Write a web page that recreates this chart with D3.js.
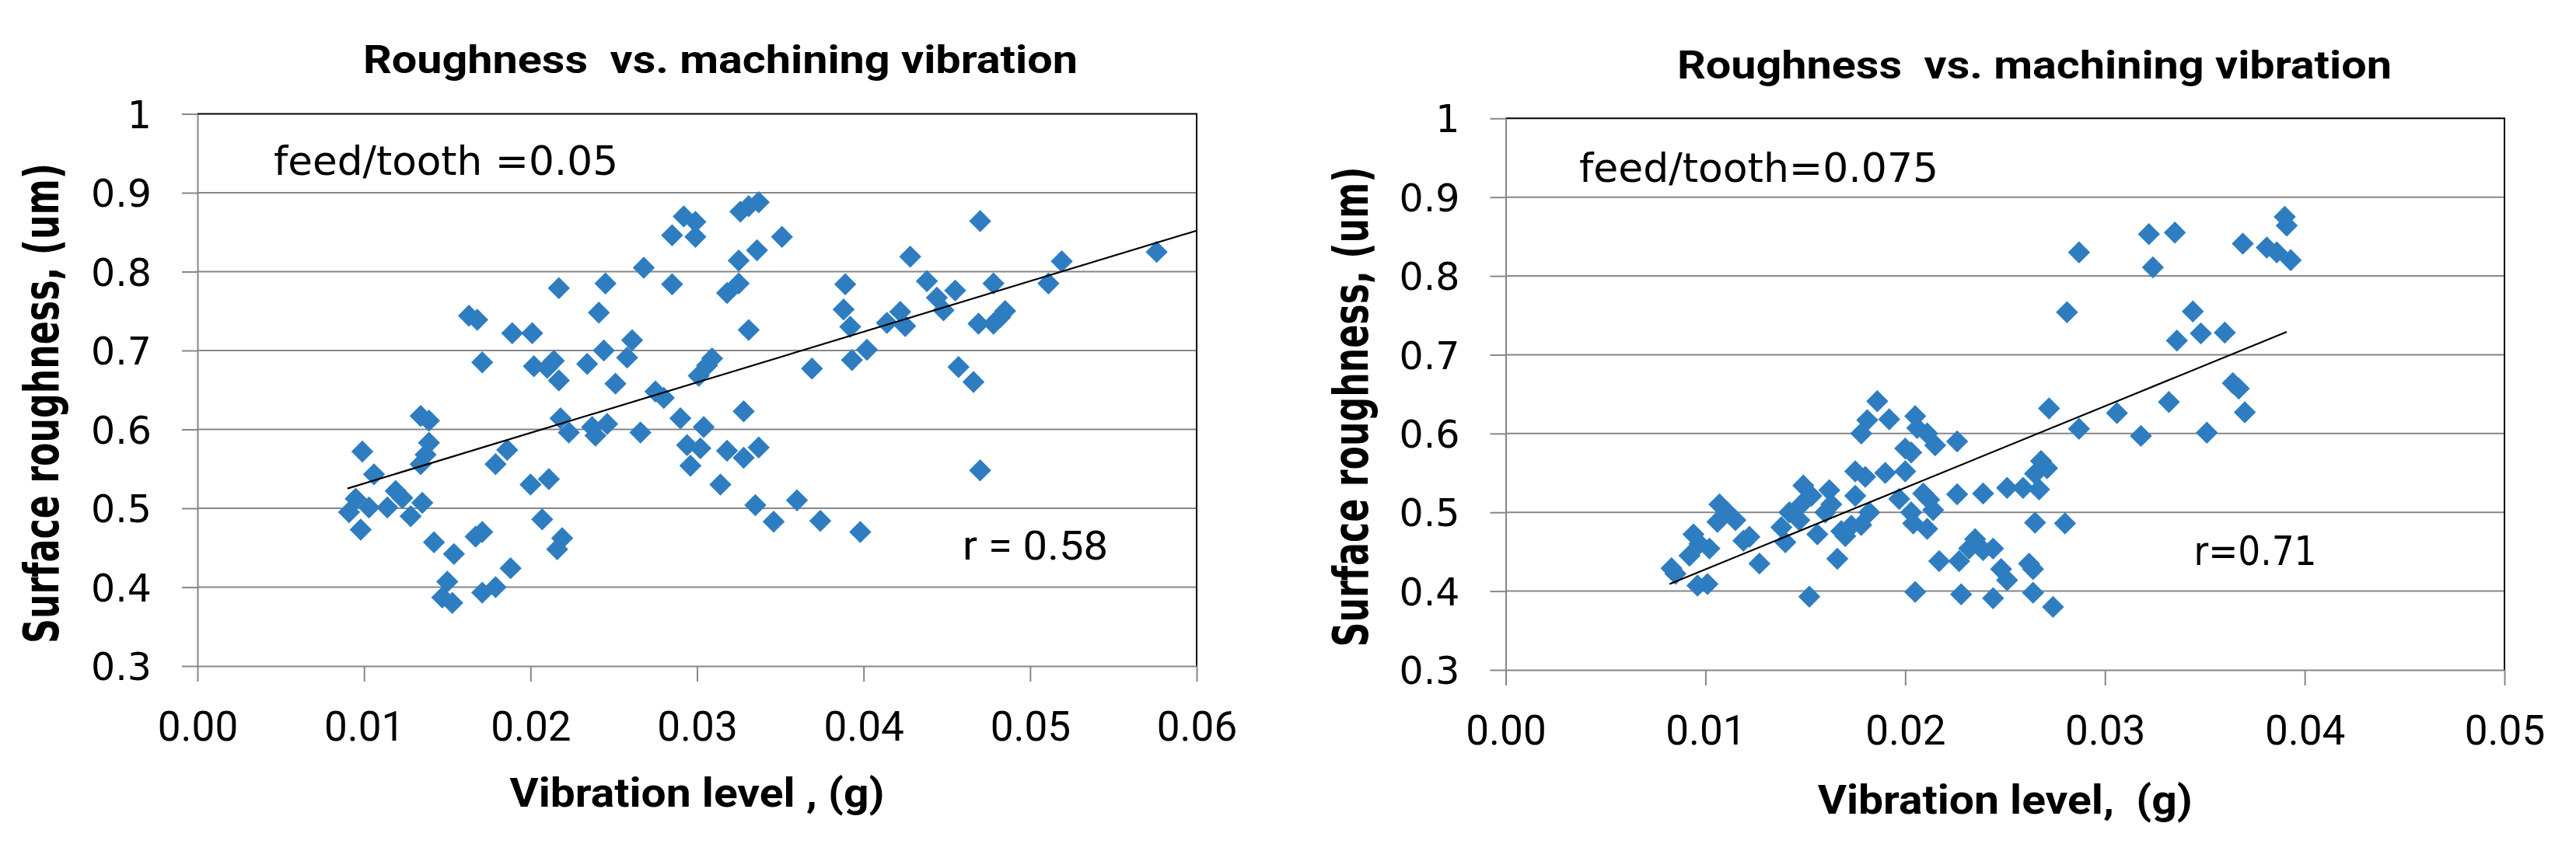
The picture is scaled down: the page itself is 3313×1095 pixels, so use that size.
<!DOCTYPE html>
<html>
<head>
<meta charset="utf-8">
<title>Roughness vs. machining vibration</title>
<script src="https://cdn.jsdelivr.net/npm/d3@7"></script>
<style>
    html, body { margin: 0; padding: 0; background: #fff; }
    svg { display: block; }
</style>
</head>
<body>
<svg id="chart" width="3313" height="1095"></svg>
<script>
/*jslint browser: true */

// feed/tooth = 0.05 : vibration level (g) and surface roughness (um)
var leftVib = [0.0091, 0.0095, 0.0098, 0.0099, 0.0103, 0.0106, 0.0114, 0.0119, 0.0123, 0.0128,
    0.0134, 0.0135, 0.0139, 0.0139, 0.0137, 0.0134, 0.0142, 0.0150, 0.0147, 0.0153,
    0.0154, 0.0163, 0.0168, 0.0167, 0.0171, 0.0171, 0.0171, 0.0179, 0.0179, 0.0186,
    0.0188, 0.0189, 0.0201, 0.0200, 0.0202, 0.0207, 0.0210, 0.0214, 0.0211, 0.0217,
    0.0216, 0.0219, 0.0217, 0.0218, 0.0223, 0.0234, 0.0237, 0.0239, 0.0241, 0.0244,
    0.0245, 0.0246, 0.0251, 0.0258, 0.0261, 0.0266, 0.0268, 0.0275, 0.0280, 0.0285,
    0.0285, 0.0292, 0.0290, 0.0294, 0.0296, 0.0299, 0.0299, 0.0301, 0.0302, 0.0304,
    0.0306, 0.0309, 0.0314, 0.0318, 0.0318, 0.0325, 0.0325, 0.0326, 0.0328, 0.0328,
    0.0331, 0.0331, 0.0335, 0.0337, 0.0336, 0.0337, 0.0346, 0.0351, 0.0360, 0.0369,
    0.0374, 0.0389, 0.0388, 0.0392, 0.0393, 0.0398, 0.0402, 0.0414, 0.0422, 0.0425,
    0.0428, 0.0438, 0.0444, 0.0448, 0.0455, 0.0457, 0.0466, 0.0470, 0.0469, 0.0470,
    0.0478, 0.0478, 0.0482, 0.0485, 0.0511, 0.0519, 0.0576];
var leftRough = [0.495, 0.512, 0.473, 0.572, 0.501, 0.543, 0.501, 0.522, 0.513, 0.490,
    0.617, 0.507, 0.611, 0.583, 0.568, 0.556, 0.457, 0.407, 0.387, 0.380,
    0.442, 0.744, 0.739, 0.464, 0.470, 0.685, 0.393, 0.400, 0.556, 0.574,
    0.424, 0.722, 0.722, 0.530, 0.680, 0.486, 0.678, 0.687, 0.537, 0.662,
    0.448, 0.462, 0.779, 0.614, 0.596, 0.683, 0.603, 0.592, 0.748, 0.700,
    0.785, 0.607, 0.658, 0.691, 0.713, 0.596, 0.805, 0.648, 0.640, 0.784,
    0.846, 0.870, 0.614, 0.580, 0.554, 0.863, 0.844, 0.668, 0.576, 0.603,
    0.681, 0.690, 0.530, 0.573, 0.773, 0.785, 0.814, 0.876, 0.564, 0.623,
    0.883, 0.726, 0.504, 0.888, 0.827, 0.577, 0.483, 0.844, 0.510, 0.677,
    0.484, 0.784, 0.752, 0.730, 0.688, 0.470, 0.701, 0.735, 0.749, 0.731,
    0.819, 0.788, 0.767, 0.751, 0.776, 0.679, 0.660, 0.864, 0.734, 0.548,
    0.785, 0.734, 0.742, 0.750, 0.785, 0.813, 0.825];

// feed/tooth = 0.075
var rightVib = [0.0083, 0.0085, 0.0094, 0.0092, 0.0096, 0.0101, 0.0097, 0.0102, 0.0107, 0.0106,
    0.0111, 0.0115, 0.0119, 0.0122, 0.0127, 0.0140, 0.0138, 0.0142, 0.0147, 0.0149,
    0.0148, 0.0153, 0.0152, 0.0156, 0.0160, 0.0162, 0.0163, 0.0166, 0.0168, 0.0173,
    0.0175, 0.0175, 0.0178, 0.0178, 0.0180, 0.0181, 0.0182, 0.0186, 0.0190, 0.0192,
    0.0197, 0.0200, 0.0200, 0.0203, 0.0205, 0.0204, 0.0203, 0.0205, 0.0206, 0.0209,
    0.0211, 0.0211, 0.0215, 0.0214, 0.0217, 0.0226, 0.0226, 0.0228, 0.0227, 0.0232,
    0.0235, 0.0239, 0.0239, 0.0244, 0.0244, 0.0248, 0.0251, 0.0251, 0.0259, 0.0262,
    0.0264, 0.0265, 0.0264, 0.0267, 0.0265, 0.0268, 0.0271, 0.0272, 0.0274, 0.0280,
    0.0281, 0.0287, 0.0287, 0.0306, 0.0318, 0.0322, 0.0324, 0.0332, 0.0335, 0.0336,
    0.0344, 0.0348, 0.0351, 0.0360, 0.0364, 0.0367, 0.0369, 0.0370, 0.0381, 0.0386,
    0.0390, 0.0391, 0.0393, 0.0170, 0.0212];
var rightRough = [0.429, 0.422, 0.472, 0.445, 0.407, 0.409, 0.460, 0.454, 0.510, 0.488,
    0.500, 0.490, 0.464, 0.469, 0.435, 0.462, 0.481, 0.500, 0.490, 0.534,
    0.510, 0.521, 0.393, 0.472, 0.500, 0.528, 0.510, 0.441, 0.476, 0.483,
    0.552, 0.521, 0.600, 0.484, 0.545, 0.617, 0.500, 0.641, 0.550, 0.618,
    0.517, 0.552, 0.581, 0.500, 0.622, 0.486, 0.576, 0.399, 0.607, 0.524,
    0.479, 0.600, 0.585, 0.503, 0.438, 0.590, 0.523, 0.396, 0.438, 0.454,
    0.466, 0.452, 0.524, 0.391, 0.454, 0.428, 0.414, 0.531, 0.531, 0.435,
    0.428, 0.487, 0.398, 0.529, 0.549, 0.565, 0.556, 0.632, 0.380, 0.486,
    0.754, 0.606, 0.830, 0.626, 0.597, 0.853, 0.811, 0.640, 0.855, 0.718,
    0.755, 0.727, 0.601, 0.728, 0.664, 0.657, 0.841, 0.627, 0.836, 0.830,
    0.875, 0.864, 0.820, 0.470, 0.516];

// linear trend lines as drawn (end points)
var leftTrendVib = [0.009, 0.06];
var leftTrendRough = [0.525, 0.852];
var rightTrendVib = [0.0082, 0.0391];
var rightTrendRough = [0.409, 0.729];

var roughTicks = [0.3, 0.4, 0.5, 0.6, 0.7, 0.8, 0.9, 1];
var leftVibTicks = [0, 0.01, 0.02, 0.03, 0.04, 0.05, 0.06];
var rightVibTicks = [0, 0.01, 0.02, 0.03, 0.04, 0.05];

var titles = ["Roughness  vs. machining vibration", "Roughness  vs. machining vibration"];
var xTitles = ["Vibration level , (g)", "Vibration level,  (g)"];
var yTitles = ["Surface roughness, (um)", "Surface roughness, (um)"];
var feedNotes = ["feed/tooth =0.05", "feed/tooth=0.075"];
var rNotes = ["r = 0.58", "r=0.71"];

(function (d3) {
    "use strict";

    var CALIBRI = "Roboto, 'Liberation Sans', sans-serif",
        VERDANA = "'DejaVu Sans', Verdana, sans-serif",
        GRID = "#868686",
        BLUE = "#2e7dc1",
        svg = d3.select("#chart");

    svg.append("rect").attr("width", 3313).attr("height", 1095).attr("fill", "#fff");

    function addText(g, str, o) {
        var t = g.append("text")
            .text(str)
            .attr("x", o.x)
            .attr("y", o.y)
            .attr("font-family", o.font)
            .attr("font-size", o.size)
            .attr("font-weight", o.bold ? "bold" : "normal")
            .attr("text-anchor", o.anchor || "start")
            .attr("fill", "#000")
            .style("white-space", "pre");
        if (o.len) {
            t.attr("textLength", o.len).attr("lengthAdjust", "spacingAndGlyphs");
        }
        return t;
    }

    // vertical axis title: squeezed along its length with a scale instead of textLength
    function addVerticalTitle(g, str, cx, cy, len) {
        var t = g.append("text")
            .text(str)
            .attr("font-family", VERDANA)
            .attr("font-size", 62)
            .attr("font-weight", "bold")
            .attr("text-anchor", "middle")
            .attr("fill", "#000"),
            k = len / t.node().getComputedTextLength();
        t.attr("transform", "translate(" + cx + "," + cy + ") rotate(-90) scale(" + k + ",1)");
    }

    function drawPanel(p) {
        var g = svg.append("g"),
            x = d3.scaleLinear().domain([0, p.xMax]).range([p.left, p.right]),
            y = d3.scaleLinear().domain([0.3, 1]).range([p.bottom, p.top]),
            sym = d3.symbol().type(d3.symbolSquare).size(405),
            line = d3.line().x(function (d) { return x(d[0]); }).y(function (d) { return y(d[1]); }),
            xa,
            ya;

        // horizontal gridlines
        g.selectAll("line.grid")
            .data(roughTicks.filter(function (v) { return v > 0.3 && v < 1; }))
            .enter().append("line")
            .attr("class", "grid")
            .attr("x1", p.left).attr("x2", p.right)
            .attr("y1", y).attr("y2", y)
            .attr("stroke", GRID).attr("stroke-width", 2);

        // top and right border of the plot area
        g.append("path")
            .attr("d", "M" + p.left + "," + y(1) + "H" + p.right + "V" + y(0.3))
            .attr("fill", "none").attr("stroke", "#000").attr("stroke-width", 2);

        ya = g.append("g")
            .attr("transform", "translate(" + p.left + ",0)")
            .call(d3.axisLeft(y).tickValues(roughTicks).tickSize(20).tickSizeOuter(0)
                .tickPadding(39).tickFormat(d3.format(".1~f")));
        ya.attr("font-family", VERDANA).attr("font-size", 49);
        ya.select(".domain").attr("stroke", GRID).attr("stroke-width", 2);
        ya.selectAll(".tick line").attr("stroke", GRID).attr("stroke-width", 2);
        ya.selectAll(".tick text").attr("fill", "#000").attr("dy", "0.36em");

        xa = g.append("g")
            .attr("transform", "translate(0," + p.bottom + ")")
            .call(d3.axisBottom(x).tickValues(p.xTicks).tickSize(20).tickSizeOuter(0)
                .tickFormat(d3.format(".2f")));
        xa.attr("font-family", CALIBRI).attr("font-size", 53);
        xa.select(".domain").attr("stroke", GRID).attr("stroke-width", 2);
        xa.selectAll(".tick line").attr("stroke", GRID).attr("stroke-width", 2);
        xa.selectAll(".tick text").attr("fill", "#000").attr("y", 96).attr("dy", 0);

        // data points (diamonds)
        g.selectAll("path.pt")
            .data(d3.zip(p.vib, p.rough))
            .enter().append("path")
            .attr("class", "pt")
            .attr("d", sym)
            .attr("transform", function (d) {
                return "translate(" + x(d[0]) + "," + y(d[1]) + ") rotate(45)";
            })
            .attr("fill", BLUE);

        // trend line on top of the markers
        g.append("path")
            .datum(d3.zip(p.trendVib, p.trendRough))
            .attr("d", line)
            .attr("fill", "none").attr("stroke", "#000").attr("stroke-width", 2.2);

        addText(g, p.title, {x: p.titleX, y: p.titleY, font: CALIBRI, size: 50, bold: true, anchor: "middle", len: 919});
        addText(g, p.xTitle, {x: (p.left + p.right) / 2, y: p.xTitleY, font: CALIBRI, size: 52, bold: true, anchor: "middle", len: 482});
        addVerticalTitle(g, p.yTitle, p.yTitleX, p.yTitleY, 618);
        addText(g, p.feed, {x: p.feedX, y: p.feedY, font: VERDANA, size: 51, len: p.feedLen});
        addText(g, p.r, {x: p.rX, y: p.rY, font: p.rFont, size: 51, len: p.rLen});
    }

    drawPanel({
        left: 254, right: 1539, top: 146.5, bottom: 857, xMax: 0.06,
        xTicks: leftVibTicks, vib: leftVib, rough: leftRough,
        trendVib: leftTrendVib, trendRough: leftTrendRough,
        title: titles[0], titleX: 926.5, titleY: 94,
        xTitle: xTitles[0], xTitleY: 1038,
        yTitle: yTitles[0], yTitleX: 75, yTitleY: 519,
        feed: feedNotes[0], feedX: 352, feedY: 225, feedLen: 443,
        r: rNotes[0], rX: 1238, rY: 720, rLen: 187, rFont: CALIBRI
    });

    drawPanel({
        left: 1936.5, right: 3221, top: 152.3, bottom: 862, xMax: 0.05,
        xTicks: rightVibTicks, vib: rightVib, rough: rightRough,
        trendVib: rightTrendVib, trendRough: rightTrendRough,
        title: titles[1], titleX: 2616.5, titleY: 101,
        xTitle: xTitles[1], xTitleY: 1047,
        yTitle: yTitles[1], yTitleX: 1759, yTitleY: 523.5,
        feed: feedNotes[1], feedX: 2031, feedY: 233.6, feedLen: 462,
        r: rNotes[1], rX: 2821.5, rY: 727, rLen: 158, rFont: VERDANA
    });

}(window.d3));
</script>
</body>
</html>
